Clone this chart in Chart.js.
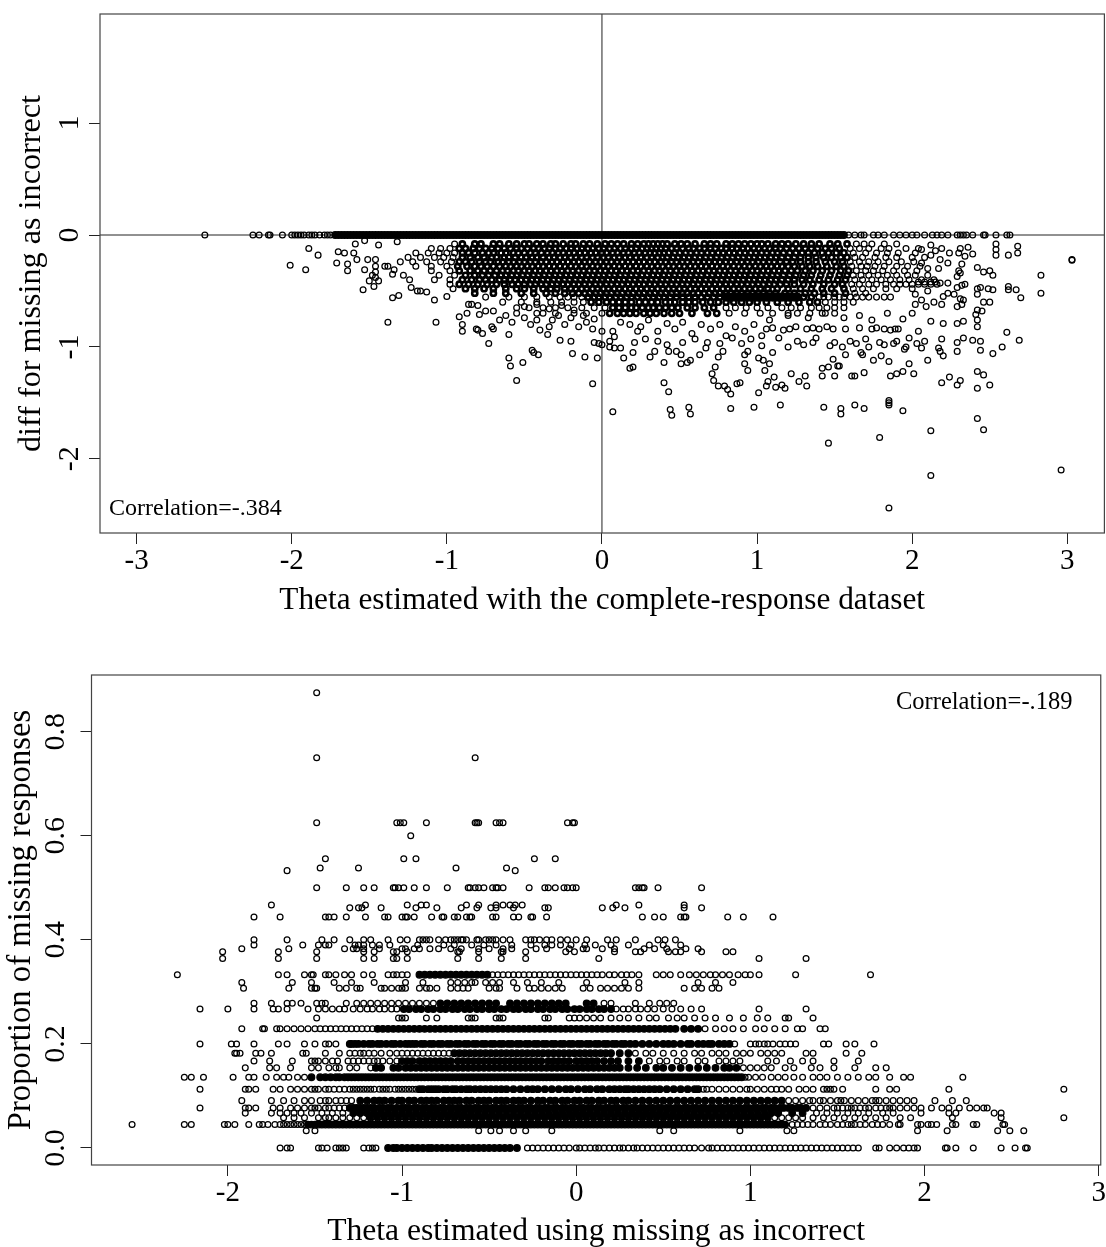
<!DOCTYPE html>
<html>
<head>
<meta charset="utf-8">
<style>
  html, body { margin: 0; background: #fff; overflow: hidden; }
  canvas { position: absolute; left: 0; }
</style>
<script src="https://cdn.jsdelivr.net/npm/chart.js@4/dist/chart.umd.min.js"></script>
</head>
<body>
<canvas id="top-plot" width="1111" height="625" style="top:0"></canvas>
<canvas id="bottom-plot" width="1106" height="627" style="top:625px"></canvas>
<script>
// upper panel: theta vs diff
const topXTicks = [-3, -2, -1, 0, 1, 2, 3];
const topYTicks = [-2, -1, 0, 1];

const zeroX = [-2.56,-2.25,-2.21,-2.15,-2.14,-2.06,-2,-1.98,-1.96,-1.94,-1.92,-1.89,-1.87,-1.85,-1.82,-1.79,-1.77,-1.75,-1.72,-1.7,-1.68,-1.66,-1.64,-1.62,-1.6,-1.58,-1.56,-1.54,-1.52,-1.5,-1.48,-1.46,-1.44,-1.42,-1.4,-1.38,-1.36,-1.34,-1.32,-1.3,-1.28,-1.26,-1.24,-1.22,-1.2,-1.18,-1.16,-1.14,-1.12,-1.1,-1.08,-1.06,-1.04,-1.02,-1,-.98,-.96,-.94,-.92,-.9,-.88,-.86,-.84,-.82,-.8,-.78,-.76,-.74,-.72,-.7,-.68,-.66,-.64,-.62,-.6,-.58,-.56,-.54,-.52,-.5,-.48,-.46,-.44,-.42,-.4,-.38,-.36,-.34,-.32,-.3,-.28,-.26,-.24,-.22,-.2,-.18,-.16,-.14,-.12,-.1,-.08,-.06,-.04,-.02,0,.02,.04,.06,.08,.1,.12,.14,.16,.18,.2,.22,.24,.26,.28,.3,.32,.34,.36,.38,.4,.42,.44,.46,.48,.5,.52,.54,.56,.58,.6,.62,.64,.66,.68,.7,.72,.74,.76,.78,.8,.82,.84,.86,.88,.9,.92,.94,.96,.98,1,1.02,1.04,1.06,1.08,1.1,1.12,1.14,1.16,1.18,1.2,1.22,1.24,1.26,1.28,1.3,1.32,1.34,1.36,1.38,1.4,1.42,1.44,1.46,1.48,1.5,1.52,1.54,1.56,1.59,1.63,1.67,1.69,1.75,1.78,1.82,1.88,1.92,1.96,2,2.03,2.08,2.13,2.16,2.19,2.23,2.29,2.31,2.33,2.35,2.39,2.46,2.47,2.54,2.61,2.63];

const cloudY = [-.08,-.12,-.16,-.2,-.24,-.28,-.32,-.36,-.4,-.44,-.48,-.52,-.555,-.6,-.65,-.7];
const cloudX = [
  [-.95,-.9,-.82,-.78,-.7,-.66,-.6,-.55,-.5,-.47,-.42,-.38,-.33,-.3,-.25,-.2,-.17,-.12,-.08,-.03,.02,.06,.1,.14,.19,.23,.27,.3,.33,.36,.39,.42,.47,.51,.55,.6,.66,.7,.74,.8,.84,.88,.92,.96,1,1.03,1.07,1.12,1.16,1.2,1.25,1.3,1.35,1.4,1.47,1.52,1.58,1.64,1.69,1.74,1.82,1.9],
  [-1.1,-1.04,-.98,-.92,-.88,-.83,-.79,-.75,-.71,-.67,-.63,-.59,-.55,-.52,-.48,-.44,-.41,-.37,-.34,-.3,-.27,-.23,-.2,-.16,-.13,-.09,-.06,-.02,.01,.05,.08,.12,.15,.19,.22,.26,.29,.32,.35,.38,.41,.45,.48,.52,.56,.59,.63,.66,.7,.73,.77,.8,.84,.87,.91,.94,.98,1.01,1.05,1.08,1.12,1.15,1.19,1.23,1.27,1.31,1.35,1.39,1.44,1.48,1.53,1.6,1.66,1.72,1.8,1.85,1.96,2.04],
  [-1.2,-1.12,-1.05,-1,-.95,-.9,-.86,-.82,-.77,-.73,-.7,-.65,-.62,-.57,-.54,-.5,-.46,-.43,-.39,-.35,-.32,-.28,-.25,-.21,-.18,-.14,-.11,-.07,-.04,0,.03,.07,.1,.14,.17,.21,.24,.28,.31,.34,.37,.4,.43,.47,.5,.54,.57,.61,.64,.68,.71,.75,.78,.82,.85,.89,.92,.96,.99,1.03,1.06,1.1,1.13,1.17,1.21,1.25,1.29,1.33,1.37,1.42,1.46,1.51,1.56,1.62,1.7,1.77,1.84,1.91,2.02],
  [-1.25,-1.17,-1.08,-1.02,-.96,-.9,-.85,-.8,-.76,-.71,-.68,-.63,-.6,-.56,-.52,-.49,-.45,-.42,-.38,-.34,-.31,-.27,-.24,-.2,-.17,-.13,-.1,-.06,-.03,.01,.04,.08,.11,.15,.18,.22,.25,.29,.32,.36,.39,.42,.46,.49,.53,.56,.6,.63,.67,.7,.74,.77,.81,.84,.88,.91,.95,.98,1.02,1.05,1.09,1.12,1.16,1.2,1.24,1.28,1.33,1.38,1.43,1.48,1.54,1.58,1.63,1.68,1.76,1.83,1.9,2,2.08],
  [-1.3,-1.22,-1.13,-1.04,-.97,-.92,-.88,-.84,-.79,-.75,-.72,-.67,-.64,-.6,-.57,-.53,-.5,-.46,-.43,-.39,-.36,-.32,-.29,-.25,-.22,-.18,-.15,-.11,-.08,-.04,-.01,.03,.06,.1,.13,.17,.2,.24,.27,.31,.34,.38,.41,.45,.48,.52,.55,.59,.62,.66,.69,.73,.76,.8,.83,.87,.9,.94,.97,1.01,1.04,1.08,1.11,1.15,1.19,1.23,1.28,1.33,1.38,1.44,1.5,1.55,1.6,1.66,1.72,1.78,1.85,1.93,2.01],
  [-1.4,-1.2,-1.1,-1,-.93,-.87,-.82,-.78,-.74,-.7,-.66,-.62,-.59,-.55,-.52,-.48,-.45,-.41,-.38,-.34,-.31,-.27,-.24,-.2,-.17,-.13,-.1,-.06,-.03,.01,.04,.08,.11,.15,.18,.22,.25,.29,.32,.36,.39,.43,.46,.5,.53,.57,.6,.64,.67,.71,.74,.78,.81,.85,.88,.92,.95,.99,1.02,1.06,1.09,1.13,1.16,1.2,1.24,1.29,1.34,1.39,1.45,1.51,1.56,1.61,1.67,1.71,1.76,1.82,1.9,1.97,2.05],
  [-1.1,-.98,-.92,-.85,-.8,-.76,-.72,-.68,-.64,-.61,-.57,-.54,-.5,-.47,-.43,-.4,-.36,-.33,-.29,-.26,-.22,-.19,-.15,-.12,-.08,-.05,-.01,.02,.06,.09,.13,.16,.2,.23,.27,.3,.34,.37,.41,.44,.48,.51,.55,.58,.62,.65,.69,.72,.76,.79,.83,.86,.9,.93,.97,1,1.04,1.07,1.11,1.14,1.18,1.22,1.26,1.31,1.36,1.42,1.48,1.54,1.59,1.64,1.7,1.75,1.81,1.88,1.95,2.03],
  [-1.05,-.95,-.88,-.82,-.77,-.73,-.69,-.65,-.62,-.58,-.55,-.51,-.48,-.44,-.41,-.37,-.34,-.3,-.27,-.23,-.2,-.16,-.13,-.09,-.06,-.02,.01,.05,.08,.12,.15,.19,.22,.26,.29,.33,.36,.4,.43,.47,.5,.54,.57,.61,.64,.68,.71,.75,.78,.82,.85,.89,.92,.96,.99,1.03,1.06,1.1,1.13,1.17,1.21,1.25,1.3,1.35,1.41,1.47,1.53,1.58,1.62,1.67,1.72,1.78,1.84,1.9,1.97,2.02,2.1],
  [-1.08,-.98,-.9,-.84,-.79,-.75,-.71,-.66,-.63,-.59,-.56,-.52,-.49,-.45,-.42,-.38,-.35,-.31,-.28,-.24,-.21,-.17,-.14,-.1,-.07,-.03,0,.04,.07,.11,.14,.18,.21,.25,.28,.32,.35,.39,.42,.46,.49,.53,.56,.6,.63,.67,.7,.74,.77,.81,.84,.88,.91,.95,.98,1.02,1.05,1.09,1.12,1.16,1.2,1.24,1.29,1.34,1.4,1.46,1.52,1.57,1.63,1.68,1.74,1.8,1.86,1.92,1.98,2.06,2.14],
  [-.98,-.92,-.86,-.8,-.74,-.68,-.63,-.58,-.54,-.5,-.46,-.43,-.39,-.36,-.32,-.29,-.25,-.22,-.18,-.15,-.11,-.08,-.04,-.01,.03,.06,.1,.13,.17,.2,.24,.27,.31,.34,.38,.41,.45,.48,.52,.55,.59,.62,.66,.69,.73,.76,.8,.83,.87,.9,.94,.97,1.01,1.04,1.08,1.11,1.15,1.19,1.24,1.3,1.36,1.43,1.5,1.55,1.61,1.66,1.72,1.77,1.83,1.88,1.92,1.96,2,2.04,2.08,2.12,2.16],
  [-.96,-.88,-.82,-.76,-.7,-.62,-.55,-.5,-.44,-.38,-.33,-.29,-.24,-.2,-.17,-.13,-.1,-.06,-.03,.01,.04,.08,.11,.15,.18,.22,.25,.29,.32,.36,.39,.43,.46,.5,.53,.57,.6,.64,.67,.71,.74,.78,.81,.85,.88,.92,.95,.99,1.02,1.07,1.13,1.2,1.28,1.35,1.42,1.48,1.56,1.62,1.68,1.75,1.83,1.9,2],
  [-.82,-.7,-.62,-.52,-.44,-.36,-.3,-.24,-.19,-.15,-.11,-.08,-.04,-.01,.03,.06,.1,.13,.17,.2,.24,.27,.31,.34,.38,.41,.45,.48,.52,.55,.59,.62,.66,.69,.73,.76,.8,.83,.87,.9,.94,.97,1.01,1.04,1.08,1.12,1.18,1.24,1.31,1.37,1.43,1.5,1.57,1.63,1.7],
  [-.75,-.6,-.5,-.42,-.34,-.27,-.22,-.18,-.13,-.09,-.05,-.02,.02,.05,.09,.12,.16,.19,.23,.26,.3,.33,.37,.4,.44,.48,.52,.56,.6,.64,.68,.72,.76,.8,.82,.84,.86,.88,.9,.92,.94,.96,.98,1,1.02,1.04,1.06,1.08,1.1,1.12,1.14,1.16,1.18,1.2,1.22,1.24,1.26,1.3,1.35,1.4,1.43,1.46,1.5,1.53,1.56,1.6,1.64,1.68,1.72,1.77,1.82,1.86],
  [-.64,-.52,-.42,-.33,-.26,-.18,-.12,-.07,-.02,.03,.07,.11,.15,.19,.24,.28,.32,.36,.41,.44,.47,.52,.56,.6,.65,.7,.75,.8,.85,.9,.95,1,1.06,1.13,1.2,1.27,1.34,1.39,1.44,1.5,1.56,1.62],
  [-.55,-.47,-.38,-.3,-.22,-.13,-.05,.02,.07,.11,.15,.19,.22,.26,.3,.33,.37,.41,.45,.49,.55,.6,.66,.72,.8,.86,.93,1,1.07,1.16,1.22,1.28,1.35,1.4,1.45,1.5,1.56],
  [-.42,-.3,-.18,-.1,0,.05,.1,.14,.18,.22,.27,.31,.35,.4,.45,.5,.58,.68,.74,.82,.92,1.02,1.1,1.2,1.26,1.34,1.42,1.5]
];

const leftTail = [[-2.01,-.27],[-1.91,-.31],[-1.89,-.12],[-1.83,-.18],[-1.7,-.15],[-1.71,-.25],[-1.64,-.26],[-1.64,-.32],[-1.66,-.16],[-1.6,-.16],[-1.59,-.08],[-1.58,-.22],[-1.53,-.05],[-1.53,-.31],[-1.54,-.49],[-1.51,-.22],[-1.46,-.22],[-1.46,-.28],[-1.46,-.33],[-1.48,-.36],[-1.5,-.41],[-1.46,-.38],[-1.44,-.41],[-1.47,-.46],[-1.44,-.09],[-1.38,-.28],[-1.35,-.35],[-1.34,-.31],[-1.35,-.56],[-1.31,-.54],[-1.38,-.78],[-1.32,-.06],[-1.28,-.36],[-1.24,-.4],[-1.23,-.47],[-1.19,-.5],[-1.17,-.5],[-1.13,-.51],[-1.08,-.58],[-1.07,-.78],[-1,-.55],[-.92,-.73],[-.87,-.7],[-.86,-.62],[-.84,-.62],[-.8,-.63],[-.79,-.71],[-.75,-.68],[-.7,-.68],[-.9,-.8],[-.9,-.86],[-.81,-.84],[-.8,-.85],[-.77,-.88],[-.73,-.97],[-.71,-.82],[-.7,-.84],[-.6,-.89],[-.6,-1.1],[-.59,-1.17],[-.51,-1.14],[-.55,-1.3],[-.45,-1.03],[-.44,-1.05],[-.41,-1.07],[-.35,-.89],[-.4,-.85],[-.34,-.82],[-.27,-.94],[-.2,-.95],[-.19,-1.06],[-.11,-1.09],[-.03,-1.1],[-.06,-1.33],[-.05,-.96],[-.02,-.97],[0,-.86],[0,-.98],[-.66,-.76],[-.62,-.72],[-.58,-.78],[-.55,-.7],[-.5,-.74],[-.46,-.8],[-.42,-.76],[-.38,-.7],[-.32,-.76],[-.28,-.72],[-.24,-.8],[-.2,-.74],[-.15,-.82],[-.1,-.78],[-.06,-.84],[-.5,-.64],[-.42,-.62],[-.34,-.66],[-.26,-.63],[-.18,-.67],[-.12,-.72],[-.05,-.75]];

const lowScatter = [[.07,-1.58],[.4,-1.32],[.43,-1.4],[.44,-1.56],[.45,-1.61],[.56,-1.54],[.57,-1.6],[.83,-1.55],[.98,-1.54],[1.15,-1.52],[1.01,-1.41],[1.43,-1.54],[1.46,-1.86],[1.54,-1.55],[1.54,-1.6],[1.63,-1.52],[1.69,-1.55],[1.79,-1.81],[1.85,-1.48],[1.85,-1.5],[1.85,-1.52],[1.85,-2.44],[1.94,-1.57],[2.12,-1.75],[2.12,-2.15],[2.42,-1.64],[2.46,-1.74],[2.96,-2.1],[3.03,-.22],[3.03,-.225],[2.83,-.36],[2.83,-.52],[2.7,-.56],[2.67,-.49],[2.69,-.94],[2.61,-.87],[2.58,-1],[2.52,-1.06],[2.62,-.46],[2.62,-.49],[2.68,-.1],[2.68,-.16],[2.62,-.18],[2.54,-.18],[2.54,-.13],[2.54,-.08],[2.52,-.49],[2.5,-.6],[2.46,-.6],[2.42,-.53],[2.42,-.48],[2.44,-.47],[2.49,-.48],[2.42,-.29],[2.46,-.33],[2.5,-.32],[2.52,-.36],[2.39,-.17],[2.36,-.11],[2.31,-.12],[2.34,-.19],[2.32,-.26],[2.3,-.16],[2.24,-.16],[2.23,-.25],[2.18,-.22],[2.17,-.3],[2.19,-.12],[2.12,-.09],[2.3,-.32],[2.31,-.34],[2.29,-.37],[2.34,-.44],[2.32,-.45],[2.29,-.47],[2.27,-.53],[2.23,-.52],[2.2,-.55],[2.23,-.43],[2.19,-.62],[2.31,-.57],[2.33,-.58],[2.32,-.62],[2.29,-.64],[2.45,-.68],[2.42,-.67],[2.41,-.71],[2.42,-.76],[2.42,-.82],[2.33,-.77],[2.29,-.79],[2.2,-.79],[2.12,-.77],[2.19,-.93],[2.17,-1.01],[2.18,-1.04],[2.2,-1.08],[2.29,-.96],[2.33,-.92],[2.39,-.94],[2.44,-.95],[2.44,-1.03],[2.29,-1.04],[2.1,-1.12],[2.42,-1.22],[2.46,-1.25],[2.42,-1.37],[2.5,-1.34],[2.31,-1.3],[2.29,-1.34],[2.24,-1.27],[2.19,-1.32],[2.08,-.95],[2.06,-1.01],[2.03,-.97],[2.01,-1.24],[1.98,-1.15],[1.94,-1.22],[1.9,-1.24],[1.86,-1.26],[1.85,-1.13],[1.8,-1.08],[1.75,-1.12],[1.68,-1.07],[1.67,-1.05],[1.69,-1.23],[1.63,-1.26],[1.61,-1.26],[1.57,-1.07],[1.5,-1.26],[1.42,-1.26],[1.42,-1.19],[1.46,-1.18],[1.52,-1.17],[1.53,-1.17],[1.49,-1.11],[1.32,-1.35],[1.27,-1.31],[1.31,-1.26],[1.22,-1.24],[1.18,-1.37],[1.16,-1.34],[1.12,-1.36],[1.11,-1.27],[1.06,-1.35],[1.07,-1.31],[1.05,-1.21],[.94,-1.21],[.92,-1.15],[1.08,-1.15],[1.04,-1.12],[1.01,-1.1],[1.03,-.99],[.92,-1.07],[.94,-1.04],[1.1,-1.05],[.87,-1.33],[.89,-1.32],[.83,-1.42],[.81,-1.38],[.79,-1.35],[.75,-1.35],[.72,-1.3],[.71,-1.24],[.73,-1.18],[.75,-1.09],[.78,-1.04],[.63,-1.07],[.67,-1.01],[.57,-1.12],[.55,-1.14],[.51,-1.15],[.51,-1.07],[.48,-1.04],[.43,-1.04],[.4,-1.14],[.34,-1.04],[.31,-1.09],[.2,-1.18],[.18,-1.19],[.21,-.96],[.2,-1.05],[.14,-1.1],[.12,-1.01],[.08,-1.01],[.05,-1],[.05,-.95],[.08,-.91],[.07,-.86],[.23,-.86],[1.06,-.84],[1.1,-.83],[1.17,-.85],[1.21,-.84],[1.25,-.82],[1.32,-.84],[1.36,-.83],[1.4,-.84],[1.45,-.82],[1.49,-.84],[1.57,-.84],[1.66,-.83],[1.74,-.84],[1.77,-.83],[1.82,-.84],[1.86,-.85],[1.89,-.84],[1.91,-.84],[.12,-.78],[.18,-.8],[.25,-.82],[.3,-.76],[.36,-.86],[.42,-.79],[.47,-.84],[.52,-.78],[.58,-.88],[.64,-.8],[.7,-.84],[.76,-.8],[.8,-.9],[.86,-.82],[.92,-.86],[.98,-.8],[1.03,-.9],[1.08,-.76],[1.14,-.92],[1.2,-.72],[1.26,-.95],[1.33,-.74],[1.38,-.92],[1.44,-.7],[1.5,-.96],[1.56,-.74],[1.6,-.95],[1.66,-.72],[1.7,-.93],[1.74,-.76],[1.79,-.96],[1.84,-.7],[1.9,-.95],[1.94,-.75],[1.98,-.92],[2,-.7],[2.04,-.86],[.28,-.93],[.36,-.95],[.42,-.98],[.52,-.96],[.6,-.93],[.68,-.96],[.76,-.97],[.84,-.92],[.9,-.97],[.96,-.93],[1.2,-1],[1.3,-.98],[1.36,-.96],[1.47,-.99],[1.55,-1],[1.64,-.97],[1.72,-1],[1.82,-.98],[1.88,-.97],[1.95,-1.02],[1.96,-1],[2.02,-.62],[2.06,-.58],[2.02,-.53],[2.1,-.5],[2.04,-.42],[2.08,-.42],[2.12,-.42],[2.15,-.42],[2.18,-.43],[2.1,-.3],[2.06,-.25],[2.12,-.18],[2.15,-.14],[2.06,-.13],[2.09,-.64],[2.14,-.6]];

// lower panel: theta vs proportion missing
const bottomXTicks = [-2, -1, 0, 1, 2, 3];
const bottomYTicks = [0, .2, .4, .6, .8];

const missLevels = [.875,.75,.625,.6,.556,.538,.533,.5,.4615,.467,.444,.4,.39,.383,.377,.364,.333,.318,.307,.278,.267,.25,.229,.2,.182,.167,.154,.136,.113,.091,.077,.067,.058,.045,.033,0];
const missX = [
  [-1.49],
  [-1.49,-.58],
  [-1.49,-1.03,-1.01,-.99,-.86,-.58,-.57,-.56,-.46,-.44,-.42,-.05,-.02,-.01],
  [-.95],
  [-1.44,-.99,-.92,-.24,-.12],
  [-1.47,-1.25,-.69,-.4],
  [-1.66,-.35],
  [-1.49,-1.32,-1.22,-1.16,-1.05,-1.04,-1.02,-.99,-.93,-.86,-.74,-.62,-.61,-.58,-.56,-.53,-.48,-.46,-.45,-.42,-.27,-.18,-.16,-.12,-.07,-.05,-.02,0,.34,.36,.38,.39,.47,.72],
  [-1.3,-1.25,-1.23,-1.12,-.92,-.8,-.66,-.57,-.49,-.46,-.36,-.18,-.16,.15,.21,.28,.62,.72],
  [-1.75,-1.21,-.97,-.89,-.86,-.63,-.56,-.46,-.42,-.38,-.35,-.31,.23,.36,.62],
  [-1.85,-1.7,-1.44,-1.42,-1.39,-1.32,-1.21,-1.1,-1.08,-1,-.98,-.97,-.93,-.83,-.77,-.76,-.7,-.68,-.63,-.61,-.6,-.48,-.46,-.36,-.33,-.26,-.25,-.17,.38,.45,.5,.6,.62,.63,.87,.96,1.13],
  [-1.85,-1.66,-1.46,-1.39,-1.3,-1.22,-1.18,-1.08,-1.01,-.97,-.9,-.88,-.86,-.84,-.79,-.75,-.72,-.7,-.68,-.66,-.65,-.63,-.57,-.56,-.52,-.5,-.48,-.46,-.42,-.38,-.29,-.26,-.24,-.21,-.17,-.14,-.09,-.05,0,.06,.18,.23,.34,.47,.51,.57],
  [-1.85,-1.57,-1.48,-1.44,-1.42,-1.22,-1.27,-1.25,-1.17,-1.13,-1.07,-.91,-.76,-.7,-.6,-.53,-.46,-.37,-.26,-.18,-.14,-.09,-.03,.05,.11,.2,.3,.42,.5,.6],
  [-1.92,-1.65,-1.33,-1.28,-1.26,-1.22,-1.13,-1,-.98,-.93,-.9,-.84,-.79,-.72,-.66,-.56,-.5,-.42,-.37,-.23,-.17,-.04,.06,.04,.15,.22,.39,.45,.52,.63,.7],
  [-2.03,-1.71,-1.49,-1.22,-1.16,-1.05,-1.03,-.97,-.68,-.67,-.56,-.43,-.42,-.29,-.06,-.01,.22,.34,.37,.53,.57,.6,.72,.86,.9],
  [-2.03,-1.71,-1.49,-1.22,-1.16,-1.05,-1.03,-.97,-.68,-.56,-.43,-.29,.13,1.05,1.32],
  [-2.29,-1.71,-1.66,-1.56,-1.52,-1.51,-1.44,-1.42,-1.38,-1.33,-1.29,-1.22,-1.17,-1.08,-1.05,-1.03,-1,-.97,-.9,-.87,-.84,-.81,-.78,-.75,-.72,-.69,-.66,-.63,-.6,-.57,-.54,-.51,-.48,-.45,-.42,-.39,-.36,-.33,-.3,-.27,-.24,-.21,-.18,-.15,-.12,-.09,-.06,-.03,0,.03,.06,.09,.12,.15,.19,.22,.26,.29,.32,.36,.46,.5,.54,.6,.65,.69,.73,.77,.8,.84,.88,.93,.97,1,1.05,1.26,1.69],
  [-1.92,-1.63,-1.52,-1.39,-1.29,-1.16,-.98,-.88,-.72,-.68,-.64,-.6,-.58,-.52,-.48,-.44,-.36,-.28,-.2,-.1,.06,.28,.36,.7,.8,.9],
  [-1.91,-1.65,-1.52,-1.5,-1.49,-1.36,-1.32,-1.26,-1.24,-1.12,-1.1,-1.06,-1.02,-1,-.98,-.9,-.86,-.84,-.8,-.72,-.68,-.65,-.62,-.5,-.46,-.44,-.34,-.27,-.24,-.2,-.16,-.12,-.08,.04,.08,.14,.18,.22,.26,.3,.36,.62,.68,.72,.78,.82],
  [-1.85,-1.75,-1.66,-1.63,-1.58,-1.49,-1.46,-1.44,-1.32,-1.26,-1.22,-1.18,-1.14,-1.1,-1.06,-1.02,-.98,-.94,-.9,-.86,-.82,-.78,-.74,-.7,-.66,-.62,-.58,-.54,-.5,-.46,-.38,-.34,-.3,-.26,-.22,-.18,-.14,-.1,-.06,.06,.1,.16,.2,.34,.42,.48,.52,.56],
  [-2.16,-2,-1.85,-1.74,-1.71,-1.66,-1.54,-1.48,-1.44,-1.4,-1.36,-1.33,-1.28,-1.24,-1.2,-1.17,-1.13,-1.1,-1.06,-1.03,-.99,-.96,-.92,-.89,-.85,-.82,-.78,-.75,-.71,-.68,-.64,-.61,-.57,-.54,-.5,-.47,-.43,-.4,-.36,-.33,-.29,-.26,-.22,-.19,-.15,-.12,-.08,-.05,-.01,.02,.06,.09,.13,.16,.2,.23,.27,.3,.34,.37,.41,.45,.5,.55,.6,.66,.72,1.05,1.32],
  [-1.49,-1.02,-1,-.98,-.86,-.8,-.62,-.6,-.58,-.46,-.44,-.42,-.18,-.16,-.04,-.01,.02,.06,.1,.14,.2,.25,.3,.36,.42,.46,.53,.58,.62,.68,.74,.8,.88,.96,1.04,1.1,1.2,1.22,1.36],
  [-1.92,-1.8,-1.79,-1.72,-1.7,-1.66,-1.62,-1.58,-1.54,-1.5,-1.47,-1.44,-1.41,-1.38,-1.35,-1.32,-1.29,-1.26,-1.23,-1.2,-1.17,-1.14,-1.11,-1.08,-1.05,-1.02,-.99,-.96,-.93,-.9,-.87,-.84,-.81,-.78,-.75,-.72,-.69,-.66,-.63,-.6,-.57,-.54,-.51,-.48,-.45,-.42,-.39,-.36,-.33,-.3,-.27,-.24,-.21,-.18,-.15,-.12,-.09,-.06,-.03,0,.03,.06,.09,.12,.15,.18,.21,.24,.27,.3,.33,.36,.39,.42,.45,.48,.51,.54,.57,.62,.66,.7,.74,.8,.85,.9,.96,1.03,1.08,1.14,1.2,1.27,1.3,1.4,1.43],
  [-2.16,-1.98,-1.95,-1.85,-1.71,-1.66,-1.56,-1.5,-1.44,-1.42,-1.38,-1.3,-1.29,-1.27,-1.25,-1.22,-1.19,-1.17,-1.14,-1.12,-1.09,-1.06,-1.04,-1.01,-.98,-.96,-.94,-.92,-.89,-.87,-.84,-.82,-.79,-.77,-.74,-.72,-.69,-.67,-.64,-.62,-.59,-.57,-.54,-.52,-.49,-.47,-.44,-.42,-.39,-.37,-.34,-.32,-.29,-.27,-.24,-.22,-.19,-.17,-.14,-.12,-.09,-.07,-.04,-.02,.01,.03,.06,.08,.11,.13,.16,.18,.21,.23,.26,.28,.31,.34,.38,.42,.46,.5,.53,.56,.6,.64,.66,.7,.73,.76,.78,.82,.85,.88,.91,1,1.03,1.05,1.08,1.1,1.13,1.17,1.2,1.23,1.26,1.42,1.45,1.55,1.6,1.71],
  [-1.96,-1.95,-1.93,-1.84,-1.81,-1.75,-1.57,-1.55,-1.44,-1.36,-1.3,-1.27,-1.24,-1.22,-1.19,-1.16,-1.12,-1.07,-1.03,-1,-.97,-.94,-.91,-.88,-.85,-.82,-.79,-.76,-.73,-.7,-.67,-.64,-.61,-.58,-.55,-.52,-.49,-.46,-.43,-.4,-.37,-.34,-.31,-.28,-.25,-.22,-.19,-.16,-.13,-.1,-.07,-.04,-.01,.02,.05,.08,.11,.14,.17,.2,.25,.3,.34,.4,.44,.5,.56,.62,.68,.72,.78,.82,.86,.92,.96,1,1.06,1.1,1.14,1.18,1.32,1.36,1.55,1.64],
  [-1.85,-1.76,-1.63,-1.52,-1.5,-1.48,-1.44,-1.4,-1.37,-1.31,-1.28,-1.25,-1.22,-1.19,-1.16,-1.14,-1.11,-1.07,-1.03,-1,-.97,-.94,-.9,-.87,-.84,-.81,-.78,-.75,-.72,-.68,-.65,-.62,-.59,-.56,-.53,-.5,-.47,-.44,-.41,-.38,-.35,-.32,-.29,-.26,-.23,-.2,-.16,-.13,-.1,-.07,-.04,0,.03,.06,.09,.12,.16,.2,.24,.3,.36,.42,.48,.52,.58,.62,.7,.74,.82,.86,.9,.94,1.1,1.15,1.23,1.3,1.36,1.48,1.62],
  [-1.9,-1.76,-1.72,-1.64,-1.52,-1.48,-1.42,-1.38,-1.36,-1.3,-1.26,-1.18,-1.15,-1.12,-1.05,-1.02,-.98,-.95,-.92,-.89,-.86,-.83,-.8,-.77,-.74,-.71,-.68,-.65,-.62,-.59,-.56,-.53,-.5,-.47,-.44,-.41,-.38,-.35,-.32,-.29,-.26,-.23,-.2,-.17,-.14,-.11,-.08,-.05,-.02,.01,.04,.07,.1,.13,.16,.19,.22,.25,.3,.35,.4,.46,.5,.55,.6,.65,.7,.75,.8,.85,.88,.92,.96,1,1.04,1.08,1.12,1.2,1.25,1.35,1.4,1.48,1.6,1.72,1.78],
  [-2.25,-2.21,-2.14,-1.97,-1.88,-1.85,-1.78,-1.72,-1.68,-1.65,-1.6,-1.56,-1.52,-1.47,-1.44,-1.41,-1.38,-1.36,-1.33,-1.31,-1.29,-1.27,-1.25,-1.23,-1.21,-1.19,-1.17,-1.15,-1.13,-1.11,-1.09,-1.07,-1.05,-1.03,-1.01,-.99,-.97,-.95,-.93,-.91,-.89,-.87,-.85,-.83,-.81,-.79,-.77,-.75,-.73,-.71,-.69,-.67,-.65,-.63,-.61,-.59,-.57,-.55,-.53,-.51,-.49,-.47,-.45,-.43,-.41,-.39,-.37,-.35,-.33,-.31,-.29,-.27,-.25,-.23,-.21,-.19,-.17,-.15,-.13,-.11,-.09,-.07,-.05,-.03,-.01,.01,.03,.05,.07,.09,.11,.13,.15,.17,.19,.21,.23,.25,.27,.29,.31,.33,.35,.37,.39,.41,.43,.45,.47,.49,.51,.53,.55,.57,.59,.61,.63,.65,.67,.69,.71,.73,.75,.77,.79,.81,.83,.85,.87,.89,.91,.93,.95,.97,.99,1.03,1.07,1.12,1.16,1.2,1.25,1.3,1.36,1.4,1.44,1.5,1.56,1.62,1.68,1.72,1.8,1.88,1.92,2.22],
  [-2.16,-1.9,-1.88,-1.84,-1.74,-1.7,-1.64,-1.6,-1.56,-1.52,-1.5,-1.48,-1.44,-1.42,-1.39,-1.36,-1.33,-1.3,-1.28,-1.26,-1.24,-1.22,-1.2,-1.18,-1.16,-1.13,-1.11,-1.09,-1.07,-1.04,-1.02,-1,-.98,-.96,-.94,-.92,-.9,-.88,-.85,-.83,-.81,-.79,-.76,-.74,-.71,-.69,-.66,-.63,-.61,-.58,-.55,-.52,-.49,-.46,-.43,-.4,-.36,-.32,-.28,-.25,-.22,-.18,-.14,-.1,-.06,-.03,.01,.05,.08,.12,.15,.19,.22,.25,.28,.3,.33,.36,.39,.42,.45,.48,.52,.56,.6,.64,.68,.7,.73,.75,.78,.82,.86,.9,.94,.98,1,1.04,1.08,1.12,1.15,1.18,1.22,1.28,1.32,1.36,1.42,1.44,1.46,1.48,1.53,1.72,1.8,1.84,2.14,2.8],
  [-1.92,-1.75,-1.68,-1.62,-1.56,-1.52,-1.47,-1.44,-1.42,-1.38,-1.35,-1.32,-1.29,-1.24,-1.2,-1.16,-1.13,-1.1,-1.06,-1.02,-1,-.96,-.93,-.89,-.86,-.83,-.8,-.76,-.73,-.7,-.67,-.63,-.6,-.56,-.53,-.5,-.46,-.43,-.4,-.36,-.33,-.3,-.26,-.22,-.19,-.15,-.12,-.08,-.05,-.01,.02,.06,.09,.13,.16,.2,.23,.27,.3,.34,.38,.42,.46,.5,.54,.58,.62,.66,.7,.74,.78,.82,.86,.9,.94,.98,1.02,1.06,1.1,1.14,1.18,1.22,1.26,1.3,1.34,1.36,1.4,1.42,1.46,1.5,1.52,1.54,1.58,1.62,1.66,1.7,1.72,1.74,1.78,1.82,1.86,1.9,1.94,2.06,2.16,2.24],
  [-2.16,-1.9,-1.88,-1.84,-1.74,-1.7,-1.64,-1.6,-1.56,-1.52,-1.5,-1.48,-1.44,-1.42,-1.39,-1.36,-1.33,-1.3,-1.28,-1.26,-1.24,-1.22,-1.2,-1.18,-1.16,-1.13,-1.11,-1.08,-1.06,-1.03,-1,-.98,-.96,-.93,-.91,-.88,-.86,-.83,-.81,-.78,-.76,-.73,-.71,-.68,-.66,-.63,-.61,-.58,-.56,-.53,-.51,-.48,-.46,-.43,-.41,-.38,-.36,-.33,-.31,-.28,-.26,-.23,-.21,-.18,-.16,-.13,-.11,-.08,-.06,-.03,-.01,.02,.04,.07,.09,.12,.14,.17,.19,.22,.24,.27,.29,.32,.34,.37,.39,.42,.44,.47,.49,.52,.54,.57,.59,.62,.64,.67,.69,.72,.74,.77,.79,.82,.84,.87,.89,.92,.94,.97,.99,1.02,1.04,1.07,1.09,1.12,1.14,1.17,1.19,1.22,1.24,1.27,1.29,1.32,1.36,1.4,1.44,1.48,1.5,1.53,1.56,1.58,1.6,1.63,1.66,1.68,1.72,1.75,1.78,1.8,1.82,1.86,1.9,1.94,1.98,2.04,2.1,2.14,2.2,2.26,2.3,2.34,2.36],
  [-1.9,-1.75,-1.7,-1.66,-1.62,-1.58,-1.52,-1.46,-1.4,-1.34,-1.28,-1.24,-1.2,-1.16,-1.12,-1.08,-1.04,-1,-.96,-.92,-.88,-.84,-.8,-.76,-.72,-.68,-.64,-.6,-.56,-.52,-.48,-.44,-.4,-.36,-.32,-.28,-.24,-.2,-.16,-.12,-.08,-.04,0,.04,.08,.12,.16,.2,.24,.28,.32,.36,.4,.44,.48,.52,.56,.6,.64,.68,.72,.76,.8,.84,.88,.92,.96,1,1.04,1.08,1.12,1.16,1.24,1.3,1.38,1.44,1.5,1.56,1.62,1.68,1.76,1.82,1.98,2.14,2.18,2.4,2.44],
  [-1.68,-1.62,-1.56,-1.48,-1.44,-1.42,-1.38,-1.34,-1.3,-1.26,-1.22,-1.18,-1.14,-1.1,-1.06,-1.02,-.98,-.94,-.9,-.86,-.82,-.78,-.74,-.7,-.66,-.62,-.58,-.54,-.5,-.46,-.42,-.38,-.34,-.3,-.26,-.22,-.18,-.14,-.1,-.06,-.02,.02,.06,.1,.14,.18,.22,.26,.3,.34,.38,.42,.46,.5,.54,.58,.62,.66,.7,.74,.78,.82,.86,.9,.94,.98,1.02,1.06,1.1,1.14,1.18,1.22,1.26,1.3,1.36,1.42,1.48,1.54,1.6,1.66,1.72,1.78,1.86,1.92,2.16,2.44,2.8],
  [-2.55,-2.25,-2.21,-2.02,-2,-1.96,-1.88,-1.82,-1.8,-1.77,-1.73,-1.7,-1.68,-1.66,-1.64,-1.62,-1.6,-1.58,-1.56,-1.54,-1.52,-1.5,-1.48,-1.46,-1.44,-1.42,-1.4,-1.38,-1.36,-1.34,-1.32,-1.3,-1.28,-1.26,-1.24,-1.22,-1.2,-1.18,-1.16,-1.14,-1.12,-1.1,-1.08,-1.06,-1.04,-1.02,-1,-.98,-.96,-.94,-.92,-.9,-.88,-.86,-.84,-.82,-.8,-.78,-.76,-.74,-.72,-.7,-.68,-.66,-.64,-.62,-.6,-.58,-.56,-.54,-.52,-.5,-.48,-.46,-.44,-.42,-.4,-.38,-.36,-.34,-.32,-.3,-.28,-.26,-.24,-.22,-.2,-.18,-.16,-.14,-.12,-.1,-.08,-.06,-.04,-.02,0,.02,.04,.06,.08,.1,.12,.14,.16,.18,.2,.22,.24,.26,.28,.3,.32,.34,.36,.38,.4,.42,.44,.46,.48,.5,.52,.54,.56,.58,.6,.62,.64,.66,.68,.7,.72,.74,.76,.78,.8,.82,.84,.86,.88,.9,.92,.94,.96,.98,1,1.02,1.04,1.06,1.08,1.1,1.12,1.14,1.16,1.18,1.2,1.24,1.27,1.3,1.33,1.36,1.4,1.43,1.46,1.5,1.53,1.56,1.58,1.6,1.63,1.66,1.7,1.73,1.76,1.8,1.85,1.86,1.96,1.98,2.02,2.04,2.07,2.16,2.18,2.28,2.3,2.45,2.46],
  [-1.55,-1.5,-.56,-.49,-.44,-.36,-.29,-.14,.48,.56,.94,1.21,1.25,1.96,2.13,2.42,2.49,2.57],
  [-1.7,-1.66,-1.64,-1.48,-1.46,-1.43,-1.38,-1.36,-1.34,-1.32,-1.22,-1.19,-1.17,-1.15,-1.08,-1.05,-1.03,-1,-.97,-.94,-.91,-.88,-.85,-.83,-.8,-.77,-.74,-.71,-.68,-.65,-.62,-.59,-.56,-.53,-.5,-.47,-.44,-.41,-.38,-.34,-.28,-.25,-.22,-.19,-.16,-.13,-.1,-.07,-.04,0,.02,.05,.08,.11,.13,.16,.19,.22,.25,.27,.3,.33,.35,.38,.41,.44,.47,.5,.53,.56,.59,.62,.65,.68,.72,.76,.78,.81,.84,.87,.9,.93,.96,.99,1.02,1.05,1.08,1.11,1.14,1.17,1.2,1.23,1.26,1.29,1.32,1.35,1.38,1.41,1.44,1.47,1.5,1.53,1.56,1.59,1.62,1.72,1.74,1.8,1.84,1.88,1.91,1.94,1.96,2.12,2.13,2.18,2.28,2.44,2.52,2.58,2.59]
];

// stretches of a row where the rings overplot into solid black
const solidLevels = [.045,.058,.067,.077,.091,.113,.136,.154,.167,.182,.2,.229,.267,.278,.333,0];
const solidFrom = [-1.55,-1.2,-1.3,-1.3,-1.25,-.9,-1.55,-1.15,-1,-.7,-1.3,-1.15,-1,-.8,-.9,-1.08];
const solidTo = [1.2,1.1,1.35,1.35,1.2,.7,.95,.95,.4,.3,.9,.7,.2,.1,-.5,-.34];

function pointRadius(ctx) {
  const p = ctx.raw;
  return p.solid ? 3.3 : p.heavy ? 2.6 : 2.9;
}

function scatter(points) {
  return {
    data: points,
    showLine: false,
    pointRadius,
    pointBorderWidth: ctx => (ctx.raw.heavy ? 2.6 : 1.25),
    pointBorderColor: '#000',
    pointBackgroundColor: ctx => (ctx.raw.solid ? '#000' : 'rgba(0,0,0,0)')
  };
}

function refLine(points) {
  return { data: points, showLine: true, pointRadius: 0, borderColor: '#222', borderWidth: 1 };
}

function axis(min, max, ticks, title, opts) {
  return {
    type: 'linear', min, max,
    afterBuildTicks: scale => { scale.ticks = ticks.map(v => ({ value: v })); },
    afterFit: scale => {
      if (scale.isHorizontal()) scale.height = opts.size; else scale.width = opts.size;
      scale.paddingTop = scale.paddingBottom = scale.paddingLeft = scale.paddingRight = 0;
    },
    grid: { display: true, drawOnChartArea: false, drawTicks: true, tickLength: 11, color: '#222' },
    border: { display: false },
    ticks: {
      autoSkip: false,
      color: '#000',
      padding: opts.tickPad,
      font: { family: '"Liberation Serif"', size: opts.tickSize },
      minRotation: opts.rot, maxRotation: opts.rot,
      crossAlign: opts.rot ? 'center' : 'near',
      callback: opts.fmt
    },
    title: {
      display: true, text: title, color: '#000',
      font: { family: '"Liberation Serif"', size: opts.titleSize },
      padding: opts.titlePad
    }
  };
}

function boxAndNote(note, noteX, noteY, noteSize) {
  return {
    id: 'boxAndNote',
    afterDraw(chart) {
      const { ctx, chartArea: a } = chart;
      ctx.save();
      ctx.strokeStyle = '#444';
      ctx.lineWidth = 1.2;
      ctx.strokeRect(a.left, a.top, a.right - a.left, a.bottom - a.top);
      ctx.fillStyle = '#000';
      ctx.font = noteSize + 'px "Liberation Serif"';
      ctx.textBaseline = 'middle';
      ctx.fillText(note, noteX, noteY);
      ctx.restore();
    }
  };
}

function baseOptions(x, y, padding) {
  return {
    responsive: false,
    animation: false,
    parsing: false,
    normalized: true,
    layout: { padding },
    plugins: { legend: { display: false }, tooltip: { enabled: false } },
    scales: { x, y }
  };
}

const topPoints = [
  ...zeroX.map(x => ({ x, y: 0, solid: x >= -1.72 && x <= 1.56 })),
  ...cloudY.flatMap((y, i) => cloudX[i].map(x => ({
    x, y,
    solid: y === -.555 && x >= .8 && x <= 1.26,
    heavy: (x > -.95 && x < 1.6 && y >= -.52) || (x > -.1 && x < 1.4 && y >= -.6) || (x >= .05 && x <= .75 && y >= -.7)
  }))),
  ...leftTail.map(([x, y]) => ({ x, y })),
  ...lowScatter.map(([x, y]) => ({ x, y }))
];

new Chart(document.getElementById('top-plot'), {
  type: 'scatter',
  data: {
    datasets: [
      scatter(topPoints),
      refLine([{ x: -3.236, y: 0 }, { x: 3.239, y: 0 }]),
      refLine([{ x: 0, y: -2.663 }, { x: 0, y: 1.975 }])
    ]
  },
  options: baseOptions(
    axis(-3.236, 3.239, topXTicks, 'Theta estimated with the complete-response dataset',
      { size: 92, tickPad: 0, tickSize: 29, rot: 0, fmt: v => String(v), titleSize: 31.3, titlePad: { top: 0, bottom: 5 } }),
    axis(-2.663, 1.975, topYTicks, 'diff for missing as incorrect',
      { size: 100, tickPad: 6, tickSize: 30, rot: 90, fmt: v => String(v), titleSize: 32.2, titlePad: { top: 12, bottom: 0 } }),
    { top: 14, right: 0, left: 0, bottom: 0 }
  ),
  plugins: [boxAndNote('Correlation=-.384', 109, 509, 24)]
});

const bottomPoints = missLevels.flatMap((y, i) => {
  const s = solidLevels.indexOf(y);
  return missX[i].map(x => ({ x, y, solid: s >= 0 && x >= solidFrom[s] && x <= solidTo[s] }));
});

new Chart(document.getElementById('bottom-plot'), {
  type: 'scatter',
  data: { datasets: [scatter(bottomPoints)] },
  options: baseOptions(
    axis(-2.783, 3.012, bottomXTicks, 'Theta estimated using missing as incorrect',
      { size: 87, tickPad: 0, tickSize: 29, rot: 0, fmt: v => String(v), titleSize: 31.6, titlePad: { top: 0, bottom: 1 } }),
    axis(-.0327, .909, bottomYTicks, 'Proportion of missing responses',
      { size: 91.5, tickPad: 6, tickSize: 30, rot: 90, fmt: v => v.toFixed(1), titleSize: 32.7, titlePad: { top: 2, bottom: 0 } }),
    { top: 50, right: 4.5, left: 0, bottom: 0 }
  ),
  plugins: [boxAndNote('Correlation=-.189', 896, 78, 24.5)]
});
</script>
</body>
</html>
